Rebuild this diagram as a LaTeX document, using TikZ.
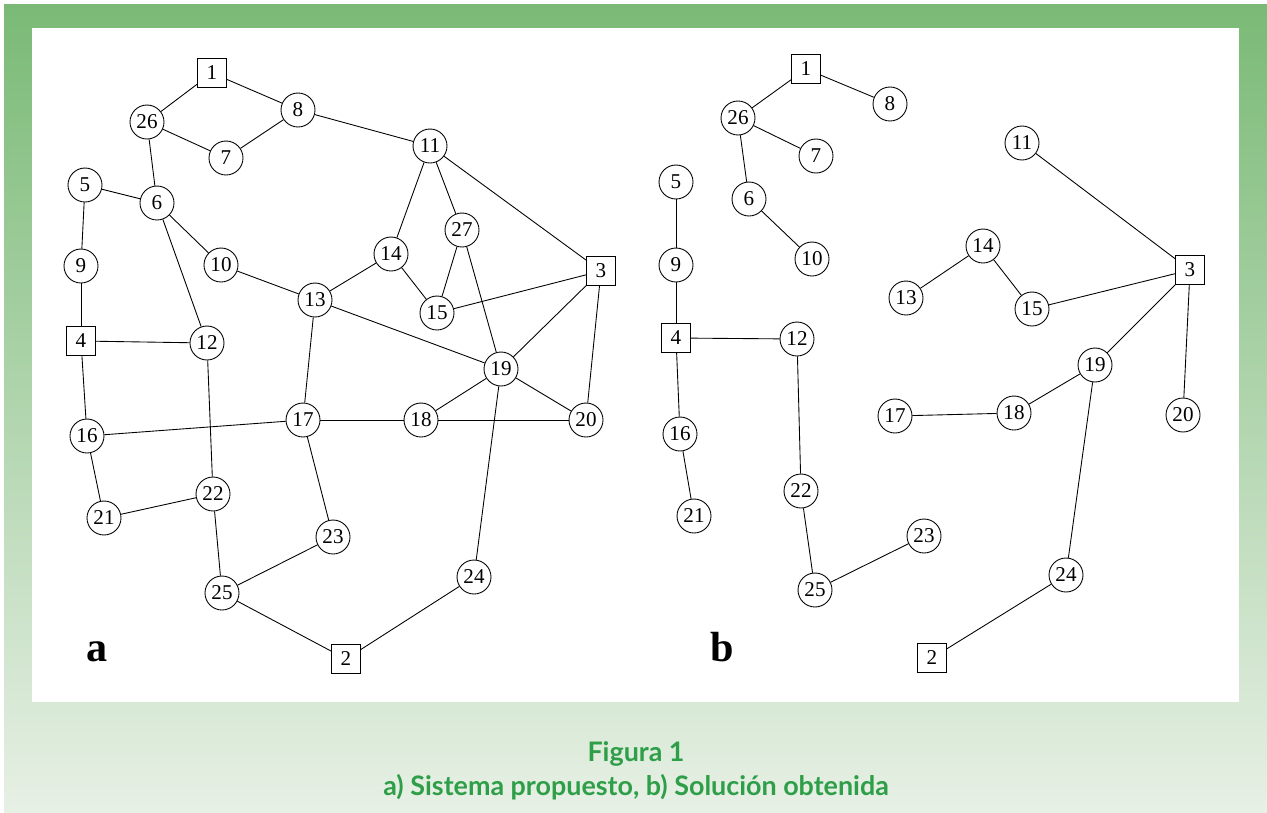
\documentclass[tikz,border=0pt]{standalone}
\usepackage{fontspec}
\setmainfont{Liberation Serif}
\newfontfamily\capfont{Lato}
\usepackage{tikz}
\definecolor{frametop}{RGB}{122,186,118}
\definecolor{framebot}{RGB}{231,240,229}
\definecolor{capgreen}{RGB}{46,158,72}

\begin{document}
\begin{tikzpicture}[x=0.02cm,y=-0.02cm,
  bus/.style={circle,draw,line width=0.5pt,minimum size=0.68cm,inner sep=0pt,font=\fontsize{12}{12}\selectfont},
  subst/.style={rectangle,draw,line width=0.5pt,minimum size=0.58cm,inner sep=0pt,font=\fontsize{12}{12}\selectfont},
  link/.style={line width=0.5pt},
  panel/.style={font=\fontsize{24}{24}\selectfont\bfseries,anchor=base},
  caption/.style={font=\capfont\bfseries\fontsize{15.3}{18}\selectfont,text=capgreen,anchor=base}]
\useasboundingbox (0,0) rectangle (1267,812);
% frame
\fill[white] (0,0) rectangle (1267,812);
\shade[top color=frametop,bottom color=framebot] (4,4) rectangle (1267,812);
\fill[white] (32,28) rectangle (1239,702);
% a) proposed system
\foreach \i/\x/\y in {1/212/73,3/601/271,4/81/341,2/346/659}
  \node[subst] (A\i) at (\x,\y) {\i};
\foreach \i/\x/\y in {
  26/147/122, 8/298/110, 7/226/158, 11/430/146, 5/85/185, 6/157/203,
  10/221/265, 9/81/266, 27/462/230, 14/391/254, 13/315/300, 15/437/313,
  12/207/343, 19/501/369, 17/303/420, 18/421/420, 20/586/420, 16/87/436,
  22/213/494, 21/104/518, 23/333/537, 24/474/577, 25/222/593}
  \node[bus] (A\i) at (\x,\y) {\i};
\foreach \u/\v in {1/26,1/8,26/7,8/7,8/11,26/6,5/6,5/9,6/10,6/12,9/4,4/12,
  4/16,16/21,21/22,12/22,22/25,25/23,23/17,25/2,2/24,24/19,16/17,17/18,
  18/20,17/13,10/13,13/14,14/11,11/27,11/3,14/15,27/15,27/19,15/3,13/19,
  3/19,3/20,19/18,19/20}
  \draw[link] (A\u) -- (A\v);
\node[panel] (la) at (97,661) {a};
% b) solution
\foreach \i/\x/\y in {1/806/69,3/1190/270,4/676/338,2/932/658}
  \node[subst] (B\i) at (\x,\y) {\i};
\foreach \i/\x/\y in {
  8/890/104, 26/738/118, 7/816/156, 6/749/199, 10/812/259, 5/676/182,
  9/676/265, 11/1022/143, 14/983/246, 13/906/298, 15/1032/309, 12/797/339,
  19/1095/365, 17/895/416, 18/1014/413, 20/1183/415, 16/680/434,
  22/801/491, 21/694/516, 23/924/536, 24/1066/575, 25/815/590}
  \node[bus] (B\i) at (\x,\y) {\i};
\foreach \u/\v in {1/26,1/8,26/7,26/6,6/10,5/9,9/4,4/12,4/16,16/21,12/22,
  22/25,25/23,11/3,14/13,14/15,15/3,3/19,3/20,19/18,18/17,19/24,24/2}
  \draw[link] (B\u) -- (B\v);
\node[panel] (lb) at (722,661) {b};
% caption
\node[caption] (fig) at (636,761) {Figura 1};
\node[caption] (sub) at (636,795) {a) Sistema propuesto, b) Solución obtenida};
\end{tikzpicture}
\end{document}
